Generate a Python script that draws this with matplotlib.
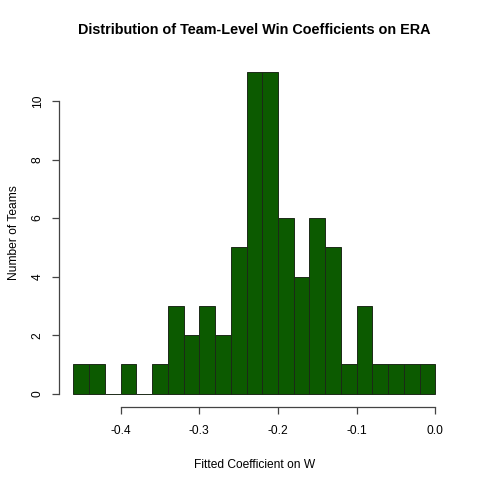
import matplotlib
matplotlib.use("Agg")
import matplotlib.pyplot as plt
import numpy as np

plt.rcParams['font.family'] = ['Liberation Sans', 'DejaVu Sans']

bin_edges = [-0.46, -0.44, -0.42, -0.40, -0.38, -0.36, -0.34, -0.32, -0.30, -0.28,
             -0.26, -0.24, -0.22, -0.20, -0.18, -0.16, -0.14, -0.12, -0.10, -0.08,
             -0.06, -0.04, -0.02, 0.00]
counts = [1, 1, 0, 1, 0, 1, 3, 2, 3, 2, 5, 11, 11, 6, 4, 6, 5, 1, 3, 1, 1, 1, 1]
x_ticks = [-0.4, -0.3, -0.2, -0.1, 0.0]
x_tick_labels = ["-0.4", "-0.3", "-0.2", "-0.1", "0.0"]
y_ticks = [0, 2, 4, 6, 8, 10]

title = "Distribution of Team-Level Win Coefficients on ERA"
xlabel = "Fitted Coefficient on W"
ylabel = "Number of Teams"

fig = plt.figure(figsize=(4.8, 4.8), dpi=100)
ax = fig.add_axes([59/480, 1-406.5/480, (449.8-59)/480, (406.5-59)/480])

edges = np.array(bin_edges)
ax.bar(edges[:-1], counts, width=np.diff(edges), align='edge',
       color='#0c5a00', edgecolor='#1c2a18', linewidth=0.7)

xr = edges[-1] - edges[0]
ax.set_xlim(edges[0] - 0.04*xr, edges[-1] + 0.04*xr)
ymax = max(counts)
ax.set_ylim(-0.04*ymax, ymax*1.04)

for s in ['top', 'right']:
    ax.spines[s].set_visible(False)
ax.spines['left'].set_bounds(y_ticks[0], y_ticks[-1])
ax.spines['bottom'].set_bounds(x_ticks[0], x_ticks[-1])
ax.spines['left'].set_position(('outward', 0))
ax.spines['bottom'].set_position(('outward', 0))
for s in ['left', 'bottom']:
    ax.spines[s].set_color('#444444')
    ax.spines[s].set_linewidth(0.9)

ax.set_xticks(x_ticks)
ax.set_xticklabels(x_tick_labels)
ax.set_yticks(y_ticks)
ax.set_yticklabels([str(v) for v in y_ticks], rotation=90, va='center')
ax.tick_params(axis='both', length=5, width=0.9, color='#444444', labelsize=8.64, pad=4)
ax.tick_params(axis='x', pad=8)
ax.tick_params(axis='y', pad=6)

fig.text((59+449.8)/2/480, 1-34/480, title, ha='center', va='baseline',
         fontsize=10.4, fontweight='bold')
fig.text((59+449.8)/2/480, 1-468/480, xlabel, ha='center', va='baseline', fontsize=8.64)
fig.text(14/480, 1-(59+406.5)/2/480, ylabel, ha='center', va='center', rotation=90, fontsize=8.64)

fig.savefig("out.png", dpi=100)
